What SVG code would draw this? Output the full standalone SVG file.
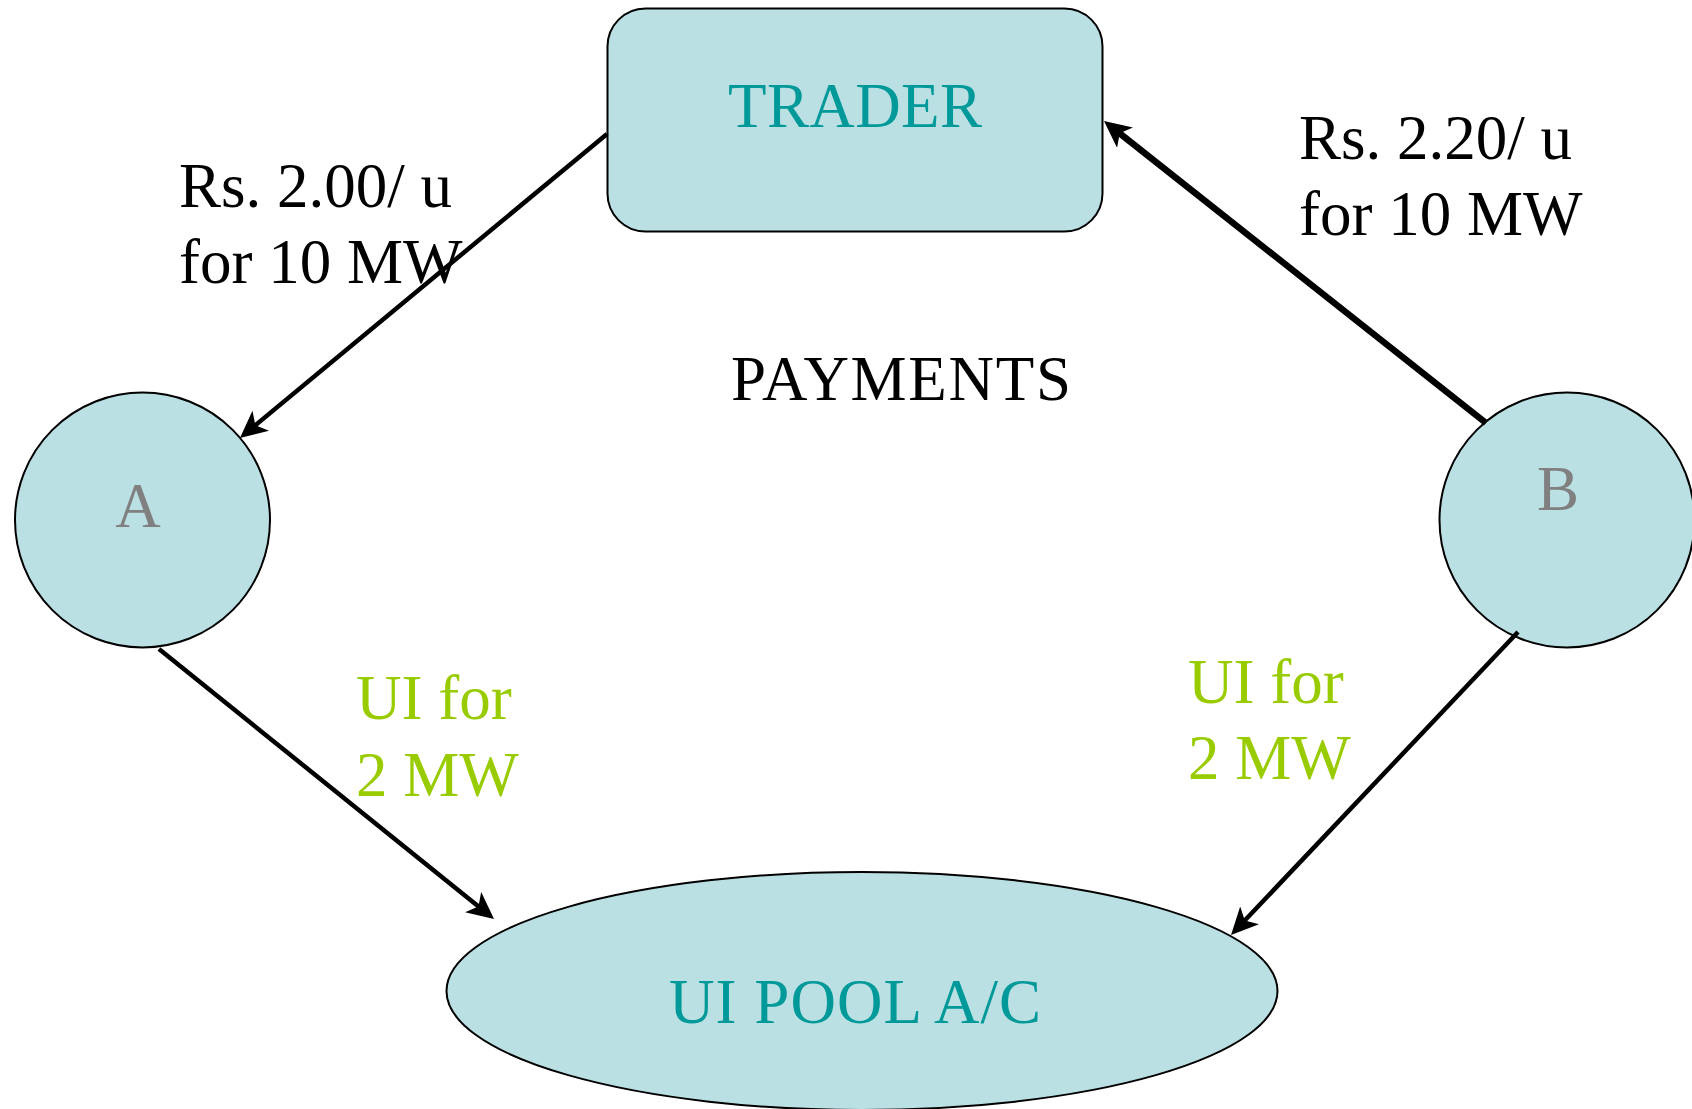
<svg xmlns="http://www.w3.org/2000/svg" width="1692" height="1109" viewBox="0 0 1692 1109">
<style>
.shape{fill:#BAE0E3;stroke:#000;stroke-width:2}
text{font-family:"Liberation Serif","Times New Roman",serif;font-size:63px}
.teal{fill:#009999}
.grey{fill:#808080}
.green{fill:#99CC00}
.black{fill:#000}
.conn{stroke:#000;stroke-width:4.5;fill:none;marker-end:url(#ah)}
</style>
<defs>
<marker id="ah" markerUnits="userSpaceOnUse" markerWidth="27" markerHeight="26" viewBox="0 0 27 26" refX="15" refY="13" orient="auto">
<path d="M0,0 L27,13 L0,26 L7,13 Z" fill="#000"/>
</marker>
</defs>
<rect width="1692" height="1109" fill="#fff"/>
<g id="trader">
<rect class="shape" x="607.5" y="8.5" width="495" height="223" rx="38" ry="38"/>
<text class="teal" x="728" y="127" textLength="254" lengthAdjust="spacing">TRADER</text>
</g>
<g id="node-a">
<circle class="shape" cx="142.5" cy="520" r="127.5"/>
<text class="grey" x="138" y="527" text-anchor="middle">A</text>
</g>
<g id="node-b">
<circle class="shape" cx="1567" cy="520" r="127.5"/>
<text class="grey" x="1558" y="510" text-anchor="middle">B</text>
</g>
<g id="ui-pool">
<ellipse class="shape" cx="862" cy="991" rx="415.5" ry="119"/>
<text class="teal" x="669" y="1023" textLength="372" lengthAdjust="spacing">UI POOL A/C</text>
</g>
<g id="connectors">
<line class="conn" x1="607" y1="134" x2="249.2" y2="430.3"/>
<line class="conn" x1="1486" y1="423" x2="1113.4" y2="128.4" style="stroke-width:6.5"/>
<line class="conn" x1="159" y1="649" x2="484.7" y2="911.5"/>
<line class="conn" x1="1518" y1="632" x2="1239.3" y2="926.3"/>
</g>
<g id="labels">
<text class="black" x="179"><tspan x="179" y="207">Rs. 2.00/ u</tspan><tspan x="179" y="283">for 10 MW</tspan></text>
<text class="black" x="1299"><tspan x="1299" y="159">Rs. 2.20/ u</tspan><tspan x="1299" y="235">for 10 MW</tspan></text>
<text class="black" x="731" y="400" textLength="340" lengthAdjust="spacing">PAYMENTS</text>
<text class="green" x="356"><tspan x="356" y="719">UI for</tspan><tspan x="356" y="796">2 MW</tspan></text>
<text class="green" x="1188"><tspan x="1188" y="703">UI for</tspan><tspan x="1188" y="779">2 MW</tspan></text>
</g>
</svg>
